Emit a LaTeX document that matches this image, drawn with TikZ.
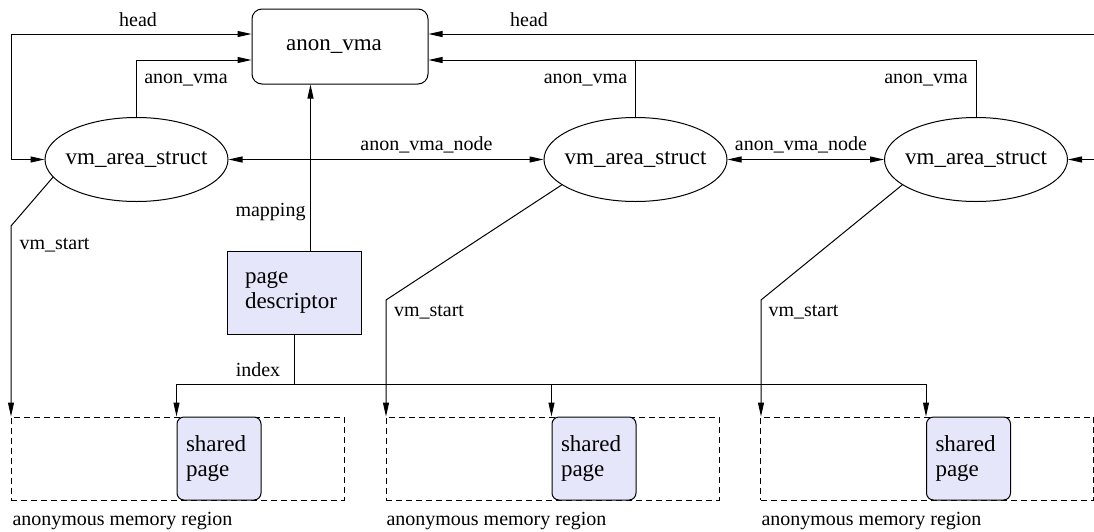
\documentclass[tikz,border=0pt]{standalone}
\usepackage{fontspec}
\setmainfont{Liberation Serif}
\newfontfamily\timesx{Liberation Serif}
\usetikzlibrary{shapes.geometric,arrows.meta}
\definecolor{pagefill}{RGB}{230,230,250}
\begin{document}
\begin{tikzpicture}[x=0.5pt,y=-0.5pt,
  line width=0.5pt,
  arrowto/.style={-{Triangle[length=7pt,width=3pt]}},
  arrowboth/.style={{Triangle[length=7pt,width=3pt]}-{Triangle[length=7pt,width=3pt]}},
  bigtxt/.style={font=\timesx\fontsize{11.5}{12.5}\selectfont},
  lbl/.style={font=\timesx\fontsize{10}{12}\selectfont, inner sep=0pt},
  anonbox/.style={draw, rounded corners=5pt, minimum width=88pt, minimum height=37.5pt, inner sep=0pt, bigtxt},
  vmabox/.style={ellipse, draw, minimum width=91.5pt, minimum height=42pt, inner sep=0pt, bigtxt},
  region/.style={draw, dash pattern=on 3pt off 2pt, minimum width=166.5pt, minimum height=41.5pt, inner sep=0pt},
  sharedbox/.style={draw, fill=pagefill, rounded corners=3.5pt, minimum height=41.5pt, text width=33pt, align=left, inner xsep=4.5pt, inner ysep=0pt, bigtxt},
  pdbox/.style={draw, fill=pagefill, minimum height=41.5pt, text width=49pt, align=left, inner xsep=9pt, inner ysep=0pt, bigtxt}
]
\useasboundingbox (0,0) rectangle (1094,531);

% nodes
\node[anonbox] (anon) at (340,46.5) {\makebox[0pt]{\hspace*{-6pt}anon\_vma}};
\node[vmabox] (vma1) at (136.5,159.5) {\makebox[0pt]{vm\_area\_struct}};
\node[vmabox] (vma2) at (635.5,159.5) {\makebox[0pt]{vm\_area\_struct}};
\node[vmabox] (vma3) at (976,159.5) {\makebox[0pt]{vm\_area\_struct}};
\node[pdbox] (pd) at (294,292.5) {page\\descriptor};

\node[region] (r1) at (177.5,458.5) {};
\node[region] (r2) at (552.5,458.5) {};
\node[region] (r3) at (927,458.5) {};
\node[sharedbox] (sp1) at (219,458.5) {shared\\page};
\node[sharedbox] (sp2) at (594,458.5) {shared\\page};
\node[sharedbox] (sp3) at (968.5,458.5) {shared\\page};

% helper coordinates
\coordinate (hL) at (11,34);
\coordinate (hR) at (1094,34);
\coordinate (eR) at (1094,159.5);
\coordinate (av) at (0,60);
\coordinate (mx) at (310.5,0);
\coordinate (k1) at (11,226);
\coordinate (k2) at (386,300);
\coordinate (k3) at (761,300);
\coordinate (i0) at (294,384);

% head list
\draw[arrowboth] (anon.west |- hL) -- (hL) |- (vma1.west);
\draw[arrowto] (hR) -- (anon.east |- hR);
\draw[arrowto] (eR) -- (vma3.east);

% anon_vma pointers
\draw[arrowto] (vma1.north) |- (anon.west |- av);
\draw[arrowto] (vma2.north) |- (anon.east |- av);
\draw (vma3.north) |- (vma2.north |- av);

% anon_vma_node
\draw[arrowboth] (vma1.east) -- (vma2.west);
\draw[arrowboth] (vma2.east) -- (vma3.west);

% mapping
\draw[arrowto] (pd.north -| mx) -- (anon.south -| mx);

% vm_start
\draw[arrowto] (vma1.192) -- (k1) -- (k1 |- r1.north);
\draw[arrowto] (vma2.199) -- (k2) -- (k2 |- r2.north);
\draw[arrowto] (vma3.199) -- (k3) -- (k3 |- r3.north);

% index
\draw (pd.south) -- (i0);
\draw[arrowto] (i0) -| (sp1.north west);
\draw[arrowto] (i0) -| (sp3.north west);
\draw[arrowto] (sp2.north west |- i0) -- (sp2.north west);

% labels
\node[lbl] (lhead1) at (138,20) {head};
\node[lbl] (lhead2) at (529,20) {head};
\node[lbl] (lav1) at (186,80) {anon\_vma};
\node[lbl] (lav2) at (585.5,80) {anon\_vma};
\node[lbl] (lav3) at (926,80) {anon\_vma};
\node[lbl] (lavn1) at (426.5,145) {anon\_vma\_node};
\node[lbl] (lavn2) at (801,145) {anon\_vma\_node};
\node[lbl] (lmap) at (270.5,212) {mapping};
\node[lbl] (lvs1) at (54.5,245) {vm\_start};
\node[lbl] (lvs2) at (429,312) {vm\_start};
\node[lbl] (lvs3) at (803.5,312) {vm\_start};
\node[lbl] (lidx) at (258,370) {index};
\node[lbl, anchor=west] (lreg1) at (12,521) {anonymous memory region};
\node[lbl, anchor=west] (lreg2) at (386,521) {anonymous memory region};
\node[lbl, anchor=west] (lreg3) at (761,521) {anonymous memory region};
\end{tikzpicture}
\end{document}
